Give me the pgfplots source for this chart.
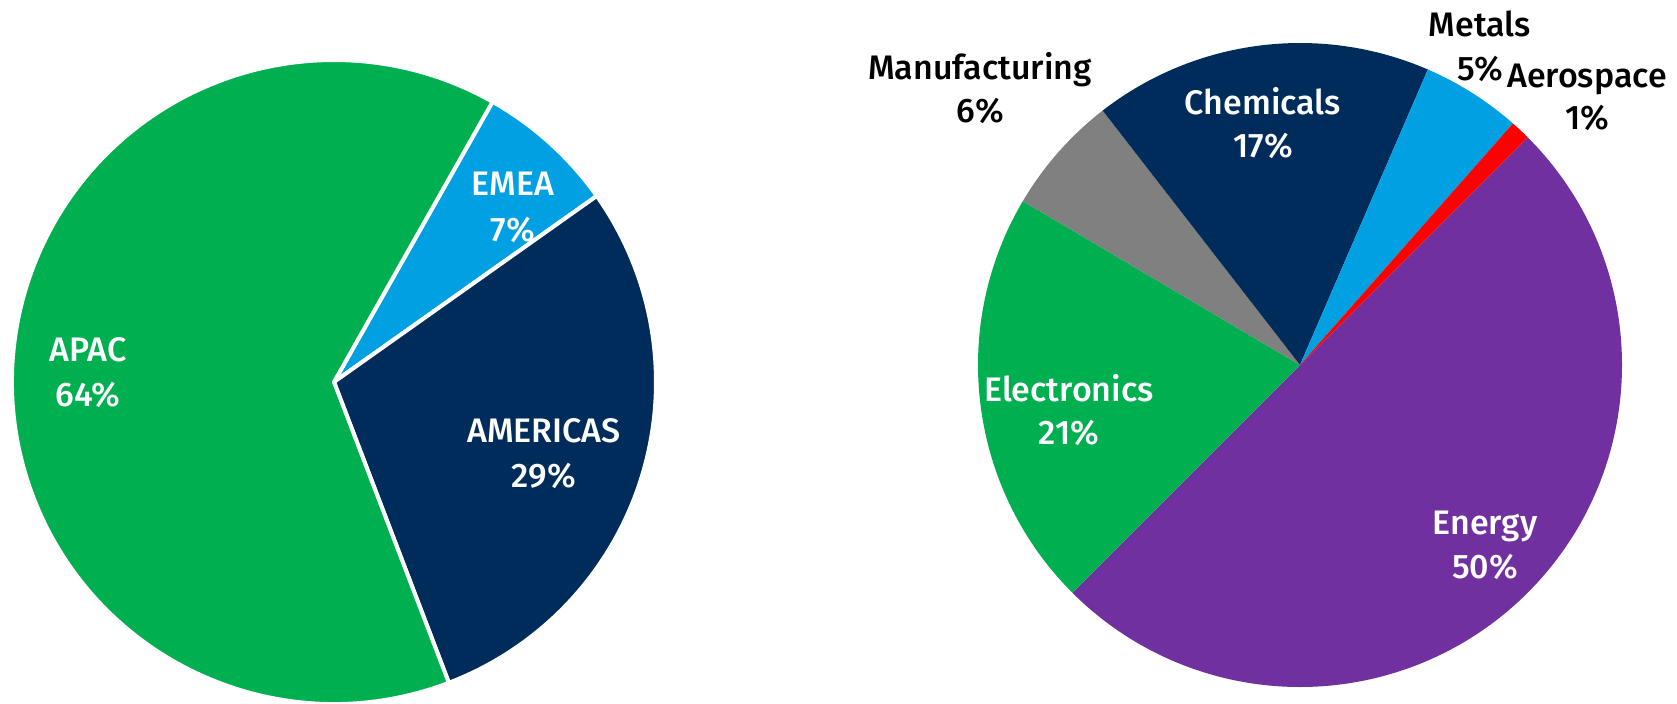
\documentclass[border=0pt]{standalone}
\usepackage{pgfplots}
\usepackage{pgfplotstable}
\pgfplotsset{compat=1.18}
\usepackage{fontspec}
\setmainfont{Fira Sans}[UprightFont = * Medium]

\definecolor{cGreen}{HTML}{00B050}
\definecolor{cBlue}{HTML}{00A0E2}
\definecolor{cNavy}{HTML}{002C5C}
\definecolor{cPurple}{HTML}{7030A0}
\definecolor{cRed}{HTML}{FF0000}
\definecolor{cGray}{HTML}{808080}

% shares, listed clockwise from the start angle
\pgfplotstableread{
label value col
EMEA 7 cBlue
AMERICAS 29 cNavy
APAC 64 cGreen
}\regiondata

\pgfplotstableread{
label value col
Energy 50 cPurple
Electronics 21 cGreen
Manufacturing 6 cGray
Chemicals 17 cNavy
Metals 5 cBlue
Aerospace 1 cRed
}\sectordata

\newcommand\lbl{\fontsize{17}{20.4}\selectfont}

% #1 table, #2 cx, #3 cy, #4 radius, #5 start angle, #6 edge style
\newcommand\drawpie[6]{%
  \pgfplotstablegetrowsof{#1}%
  \pgfmathtruncatemacro\nrows{\pgfplotsretval-1}%
  \def\curangle{#5}%
  \pgfplotsforeachungrouped \i in {0,...,\nrows}{%
    \pgfplotstablegetelem{\i}{value}\of{#1}\let\val\pgfplotsretval
    \pgfplotstablegetelem{\i}{col}\of{#1}\let\col\pgfplotsretval
    \pgfmathsetmacro\endangle{\curangle-3.6*\val}%
    \pgfmathsetmacro\sx{#2+#4*cos(\curangle)}%
    \pgfmathsetmacro\sy{#3+#4*sin(\curangle)}%
    \edef\tmp{\noexpand\fill[\col,#6] (axis cs:#2,#3) -- (axis cs:\sx,\sy)
      arc[start angle=\curangle, end angle=\endangle, radius=#4] -- cycle;}%
    \tmp
    \let\curangle\endangle
  }%
}

\begin{document}
\begin{tikzpicture}
\begin{axis}[scale only axis, width=838.5pt, height=351.5pt,
  xmin=0, xmax=1677, ymin=0, ymax=703, hide axis, clip=false]

  \drawpie{\regiondata}{334}{321}{322}{60.5}{draw=white, line width=2pt, line join=round}
  \drawpie{\sectordata}{1300}{338}{322}{45}{draw=none}

  % left pie labels
  \node[anchor=base, text=white, font=\lbl] at (axis cs:88,342) {APAC};
  \node[anchor=base, text=white, font=\lbl] at (axis cs:88,297) {64\%};
  \node[anchor=base, text=white, font=\lbl] at (axis cs:513,507) {EMEA};
  \node[anchor=base, text=white, font=\lbl] at (axis cs:513,461) {7\%};
  \node[anchor=base, text=white, font=\lbl] at (axis cs:544,261) {AMERICAS};
  \node[anchor=base, text=white, font=\lbl] at (axis cs:544,216) {29\%};

  % right pie labels
  \node[anchor=base, text=black, font=\lbl] at (axis cs:980,623) {Manufacturing};
  \node[anchor=base, text=black, font=\lbl] at (axis cs:980,580) {6\%};
  \node[anchor=base, text=white, font=\lbl] at (axis cs:1263,588) {Chemicals};
  \node[anchor=base, text=white, font=\lbl] at (axis cs:1263,545) {17\%};
  \node[anchor=base, text=black, font=\lbl] at (axis cs:1480,666) {Metals};
  \node[anchor=base, text=black, font=\lbl] at (axis cs:1480,622) {5\%};
  \node[anchor=base, text=black, font=\lbl] at (axis cs:1587,615) {Aerospace};
  \node[anchor=base, text=black, font=\lbl] at (axis cs:1587,573) {1\%};
  \node[anchor=base, text=white, font=\lbl] at (axis cs:1069,302) {Electronics};
  \node[anchor=base, text=white, font=\lbl] at (axis cs:1069,259) {21\%};
  \node[anchor=base, text=white, font=\lbl] at (axis cs:1485,169) {Energy};
  \node[anchor=base, text=white, font=\lbl] at (axis cs:1485,125) {50\%};
\end{axis}
\pgfresetboundingbox
\useasboundingbox (current axis.south west) rectangle (current axis.north east);
\end{tikzpicture}
\end{document}
